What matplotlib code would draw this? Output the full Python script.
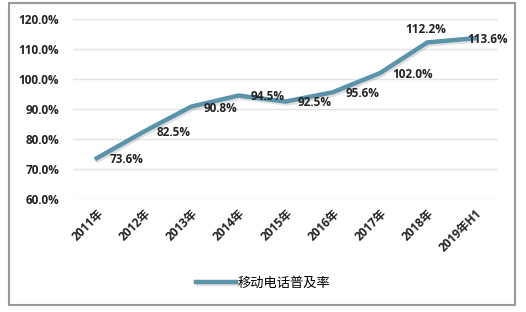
import matplotlib
matplotlib.use("Agg")
import matplotlib.pyplot as plt
import matplotlib.patheffects as pe
from matplotlib.patches import Rectangle

plt.rcParams['font.family'] = ['Open Sans', 'Noto Sans CJK SC', 'DejaVu Sans']

# 数据
years = ["2011年", "2012年", "2013年", "2014年", "2015年", "2016年", "2017年", "2018年", "2019年H1"]
rate = [73.6, 82.5, 90.8, 94.5, 92.5, 95.6, 102.0, 112.2, 113.6]
series_name = "移动电话普及率"

fig = plt.figure(figsize=(5.26, 3.12), dpi=100)
ax = fig.add_axes([0.139, 0.362, 0.808, 0.577])

x = list(range(len(years)))
ax.plot(x, rate, color="#5b93ab", lw=3.2, solid_joinstyle="miter", label=series_name,
        path_effects=[pe.SimpleLineShadow(offset=(1, -1.5), alpha=0.25, shadow_color="gray"), pe.Normal()])

# 数据标签
for i, v in enumerate(rate):
    dx, dy = 9, -1
    if i == 7:
        dx, dy = -16, 9
    if i == 8:
        dx, dy = -5, -1
    ax.annotate(f"{v:.1f}%", (i, v), xytext=(dx, dy), textcoords="offset points",
                ha="left", va="center", fontsize=8.5, fontweight="bold", color="#222222",
                annotation_clip=False)

ax.set_xlim(-0.5, len(years) - 0.5)
ax.set_ylim(60, 120)
ax.set_yticks(range(60, 121, 10))
ax.set_yticklabels([f"{t:.1f}%" for t in range(60, 121, 10)], fontsize=8.5, fontweight="bold", color="#222222")
ax.set_xticks(x)
ax.set_xticklabels(years, rotation=45, ha="right", rotation_mode="anchor", fontsize=8.5, fontweight="bold", color="#222222")
ax.tick_params(axis="x", length=0, pad=6)
ax.tick_params(axis="y", length=0, pad=10)
ax.grid(axis="y", color="#e3e3e3", lw=1)
ax.set_axisbelow(True)
for s in ax.spines.values():
    s.set_visible(False)

fig.legend(loc="center", bbox_to_anchor=(0.5, 0.092), frameon=False, fontsize=9.5,
           handlelength=3, handletextpad=0.1)

fig.patches.append(Rectangle((9 / 526, 7 / 312), 506 / 526, 302 / 312, transform=fig.transFigure,
                             fill=False, edgecolor="#999999", lw=1.5))

fig.savefig("out.png", dpi=100)
